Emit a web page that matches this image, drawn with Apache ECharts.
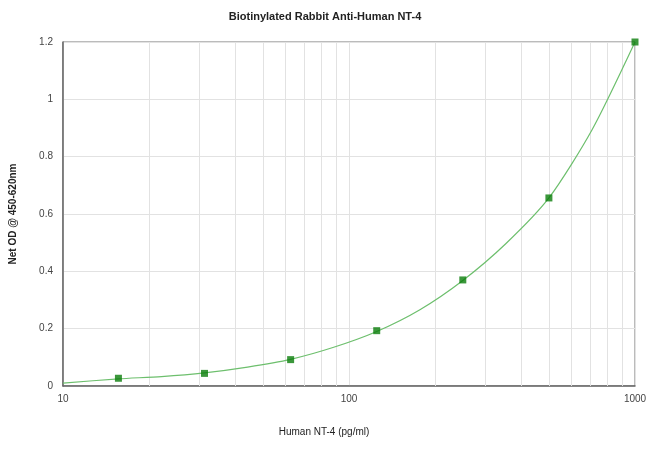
<!DOCTYPE html>
<html>
<head>
<meta charset="utf-8">
<script src="https://cdn.jsdelivr.net/npm/echarts@6/dist/echarts.min.js"></script>
<style>html,body{margin:0;padding:0;background:#fff}#c{width:650px;height:455px}</style>
</head>
<body>
<div id="c"></div>
<script>
// Standards (concentration pg/ml, OD)
const concentrations = [15.625, 31.25, 62.5, 125, 250, 500, 1000];
const odValues = [0.027, 0.044, 0.092, 0.193, 0.370, 0.656, 1.200];
// Fitted curve
const curveX = [10, 15.625, 22.1, 31.25, 44.2, 62.5, 88.4, 125, 177, 250, 354, 500, 707, 1000];
const curveY = [0.010, 0.025, 0.033, 0.046, 0.066, 0.093, 0.135, 0.190, 0.266, 0.368, 0.497, 0.656, 0.893, 1.200];
// Minor vertical grid lines
const minorGridX = [20, 30, 40, 50, 60, 70, 80, 90, 200, 300, 400, 500, 600, 700, 800, 900];

const chart = echarts.init(document.getElementById('c'));
chart.setOption({
  backgroundColor: '#fff',
  animation: false,
  title: {
    text: 'Biotinylated Rabbit Anti-Human NT-4',
    left: 'center', top: 6,
    textStyle: {fontFamily: 'Liberation Sans', fontSize: 11, fontWeight: 'bold', color: '#222'}
  },
  grid: {left: 63, right: 15, top: 42, bottom: 69, show: true, borderColor: '#777', borderWidth: 1, backgroundColor: '#fff'},
  xAxis: {
    type: 'log', logBase: 10, min: 10, max: 1000,
    name: 'Human NT-4 (pg/ml)', nameLocation: 'middle', nameGap: 41,
    nameTextStyle: {fontFamily: 'Liberation Sans', fontSize: 10, color: '#222', padding: [0, 50, 0, 0]},
    axisLine: {lineStyle: {color: '#666', width: 1.5}},
    axisTick: {show: false},
    axisLabel: {fontFamily: 'Liberation Sans', fontSize: 10, color: '#444', margin: 8,
      formatter: v => String(Math.round(v))},
    splitLine: {show: true, lineStyle: {color: '#e2e2e2'}}
  },
  yAxis: {
    type: 'value', min: 0, max: 1.2, interval: 0.2,
    name: 'Net OD @ 450-620nm', nameLocation: 'middle', nameGap: 45,
    nameTextStyle: {fontFamily: 'Liberation Sans', fontSize: 10, fontWeight: 'bold', color: '#222'},
    axisLine: {show: true, lineStyle: {color: '#666', width: 1.5}},
    axisTick: {show: false},
    axisLabel: {fontFamily: 'Liberation Sans', fontSize: 10, color: '#444', margin: 10,
      formatter: v => String(Math.round(v * 10) / 10)},
    splitLine: {show: true, lineStyle: {color: '#e2e2e2'}}
  },
  series: [
    {
      type: 'line', data: [], z: 1, silent: true,
      markLine: {
        silent: true, symbol: 'none', label: {show: false}, z: 1,
        lineStyle: {color: '#e2e2e2', type: 'solid', width: 1},
        data: minorGridX.map(x => ({xAxis: x}))
      }
    },
    {
      type: 'line', data: curveX.map((x, i) => [x, curveY[i]]),
      smooth: 0.25, showSymbol: false, symbol: 'none',
      lineStyle: {color: '#6dbf6d', width: 1.2}, z: 3
    },
    {
      type: 'scatter', data: concentrations.map((x, i) => [x, odValues[i]]),
      symbol: 'rect', symbolSize: 7,
      itemStyle: {color: '#0a7d0a'}, z: 4
    }
  ]
});
</script>
</body>
</html>
